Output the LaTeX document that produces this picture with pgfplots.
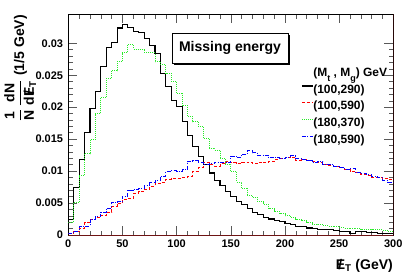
\documentclass[border=0pt]{standalone}
\usepackage{pgfplots}
\pgfplotsset{compat=1.18}
\usepackage{pgfplotstable}
\usepackage{fontspec}
\setmainfont{Liberation Sans}
\newcommand{\Eslash}{\ooalign{E\cr\hidewidth/\hidewidth\cr}}
\definecolor{rootgreen}{RGB}{40,235,40}
\definecolor{framered}{RGB}{110,20,20}

\pgfplotstableread{
x    k      r      g      b
0    0.0024 0.0002 0.0019 0.0003
5    0.0074 0.0005 0.0051 0.0006
10   0.0118 0.0010 0.0093 0.0013
15   0.0160 0.0019 0.0127 0.0014
20   0.0198 0.0024 0.0150 0.0025
25   0.0224 0.0027 0.0190 0.0029
30   0.0264 0.0031 0.0215 0.0036
35   0.0293 0.0036 0.0245 0.0042
40   0.0301 0.0044 0.0257 0.0051
45   0.0324 0.0050 0.0271 0.0052
50   0.0329 0.0055 0.0285 0.0061
55   0.0325 0.0057 0.0298 0.0070
60   0.0319 0.0065 0.0291 0.0072
65   0.0317 0.0068 0.0291 0.0073
70   0.0308 0.0071 0.0286 0.0077
75   0.0296 0.0076 0.0285 0.0082
80   0.0284 0.0080 0.0271 0.0085
85   0.0253 0.0083 0.0267 0.0092
90   0.0232 0.0087 0.0253 0.0099
95   0.0211 0.0088 0.0240 0.0101
100  0.0201 0.0089 0.0222 0.0100
105  0.0177 0.0090 0.0203 0.0102
110  0.0156 0.0092 0.0186 0.0115
115  0.0138 0.0100 0.0177 0.0116
120  0.0123 0.0106 0.0170 0.0113
125  0.0111 0.0113 0.0151 0.0110
130  0.0097 0.0110 0.0136 0.0112
135  0.0086 0.0108 0.0133 0.0114
140  0.0077 0.0112 0.0120 0.0114
145  0.0068 0.0115 0.0111 0.0114
150  0.0060 0.0113 0.0099 0.0123
155  0.0053 0.0112 0.0083 0.0121
160  0.0048 0.0114 0.0073 0.0126
165  0.0041 0.0113 0.0062 0.0132
170  0.0035 0.0112 0.0058 0.0129
175  0.0032 0.0114 0.0052 0.0124
180  0.0028 0.0113 0.0048 0.0125
185  0.0025 0.0115 0.0041 0.0121
190  0.0023 0.0118 0.0037 0.0122
195  0.0021 0.0120 0.0033 0.0120
200  0.0018 0.0122 0.0030 0.0122
205  0.0016 0.0121 0.0027 0.0124
210  0.0014 0.0117 0.0024 0.0120
215  0.0013 0.0118 0.0022 0.0118
220  0.0011 0.0116 0.0019 0.0116
225  0.0010 0.0115 0.0017 0.0114
230  0.0009 0.0113 0.0016 0.0115
235  0.0008 0.0111 0.0015 0.0110
240  0.0008 0.0109 0.0014 0.0111
245  0.0007 0.0107 0.0013 0.0108
250  0.0006 0.0105 0.0012 0.0106
255  0.0005 0.0103 0.0011 0.0103
260  0.0003 0.0100 0.0010 0.0104
265  0.0005 0.0098 0.0011 0.0098
270  0.0005 0.0095 0.0009 0.0096
275  0.0004 0.0093 0.0009 0.0094
280  0.0004 0.0090 0.0008 0.0092
285  0.0003 0.0090 0.0008 0.0090
290  0.0003 0.0088 0.0007 0.0086
295  0.0002 0.0087 0.0006 0.0083
300  0.0002 0.0087 0.0006 0.0083
}\data

\begin{document}
\begin{tikzpicture}
\useasboundingbox (0,0) rectangle (407pt,277pt);
\begin{axis}[
  at={(68.3pt,42pt)}, anchor=south west,
  scale only axis, width=325pt, height=220.7pt,
  xmin=0, xmax=300, ymin=0, ymax=0.03454,
  xtick={0,50,100,150,200,250,300},
  xticklabels={0,50,100,150,200,250,300},
  ytick={0,0.005,0.01,0.015,0.02,0.025,0.03},
  yticklabels={0,0.005,0.01,0.015,0.02,0.025,0.03},
  minor x tick num=4, minor y tick num=4,
  scaled y ticks=false,
  tick align=inside,
  major tick length=9pt, minor tick length=4.5pt,
  tick style={black!65, line width=0.6pt},
  xticklabel pos=lower, yticklabel pos=left,
  tick label style={font=\fontsize{11}{11}\selectfont\bfseries},
  yticklabel style={inner sep=0pt, xshift=-5pt},
  xticklabel style={inner sep=0pt, yshift=-5pt},
  axis line style={black, line width=0.8pt},
  legend style={at={(0.716,0.764)}, anchor=north west, draw=none, fill=none,
    inner sep=0pt, font=\fontsize{12}{12}\selectfont\bfseries, row sep=3.2pt,
    nodes={inner sep=0pt, text height=10pt, text depth=3.5pt},
    /tikz/every even column/.append style={column sep=1.5pt}},
  legend cell align=left,
  legend image code/.code={\draw[#1] (0pt,4pt) -- (11pt,4pt);},
  clip=true,
]
\addlegendimage{empty legend}
\addlegendentry{(M\raisebox{-5pt}{\fontsize{9}{9}\selectfont t} , M\raisebox{-5pt}{\fontsize{9}{9}\selectfont g}) GeV}
\addplot[const plot mark left, black, line width=1.1pt] table[x=x, y=k] {\data};
\addlegendentry{(100,290)}
\addplot[const plot mark left, red, line width=0.9pt, dash pattern=on 3pt off 2pt] table[x=x, y=r] {\data};
\addlegendentry{(100,590)}
\addplot[const plot mark left, rootgreen, line width=0.9pt, dash pattern=on 1pt off 1pt] table[x=x, y=g] {\data};
\addlegendentry{(180,370)}
\addplot[const plot mark left, blue, line width=0.9pt, dash pattern=on 4pt off 1.5pt on 1pt off 1.5pt] table[x=x, y=b] {\data};
\addlegendentry{(180,590)}
\draw[framered, line width=0.8pt] (rel axis cs:0,0) -- (rel axis cs:1,0) -- (rel axis cs:1,1);
\end{axis}
% title box with shadow
\fill[black] (174pt,212pt) rectangle (290pt,242pt);
\node[draw=black, fill=white, line width=0.7pt, minimum width=116pt, minimum height=30pt, inner sep=0pt,
  font=\fontsize{14}{14}\selectfont\bfseries] at (230pt,229pt) {Missing energy};
% y label
\node[rotate=90, anchor=north east, inner sep=0pt, font=\fontsize{14}{14}\selectfont\bfseries]
  at (4pt,262pt) {$\displaystyle\frac{\mbox{1}}{\mbox{N}}\,\frac{\mbox{dN}}{\mbox{d\Eslash\textsubscript{T}}}$ (1/5 GeV)};
% x label
\node[anchor=base east, inner sep=0pt, font=\fontsize{14}{14}\selectfont\bfseries]
  at (393pt,8pt) {\Eslash\textsubscript{T} (GeV)};
\end{tikzpicture}
\end{document}
